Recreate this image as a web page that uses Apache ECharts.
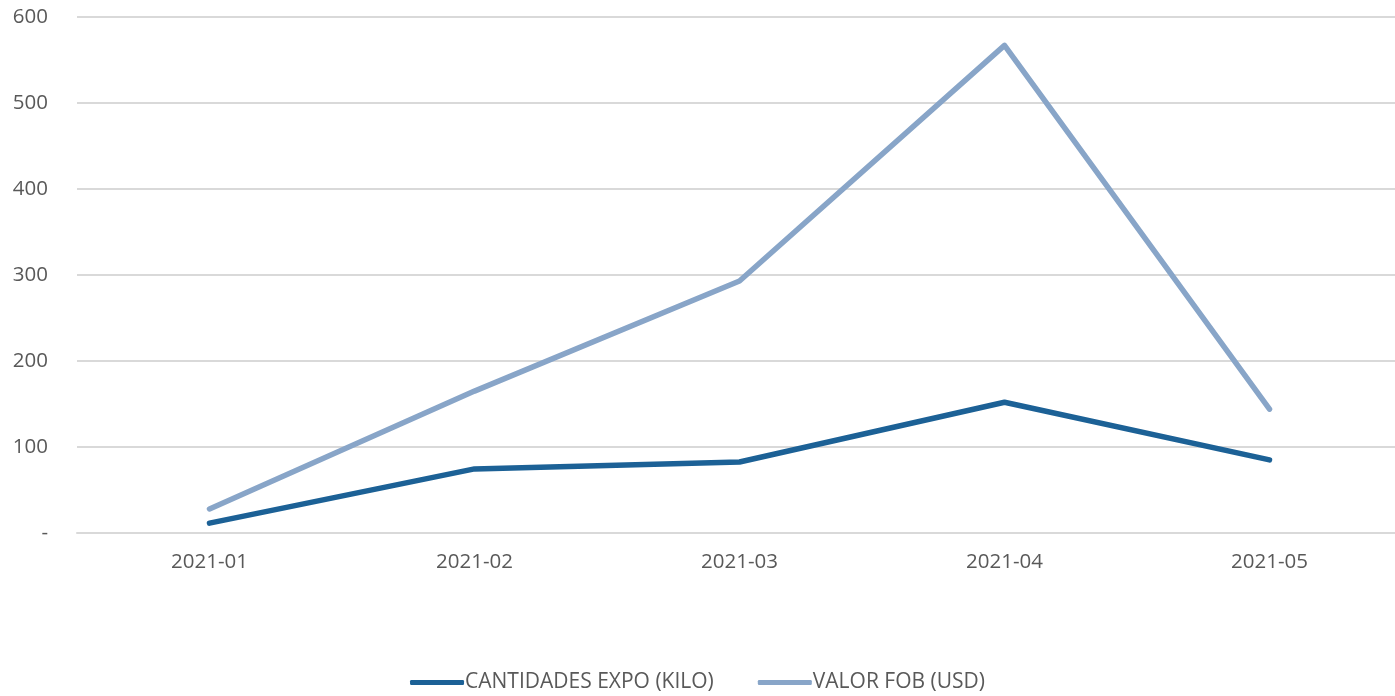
<!DOCTYPE html>
<html>
<head>
<meta charset="utf-8">
<script src="https://cdn.jsdelivr.net/npm/echarts@6/dist/echarts.min.js"></script>
<style>
  html, body { margin: 0; padding: 0; background: #fff; }
  #chart { width: 1395px; height: 696px; }
</style>
</head>
<body>
<div id="chart"></div>
<script>
const months = ["2021-01", "2021-02", "2021-03", "2021-04", "2021-05"];
const cantidades = [11.5, 74.5, 82.5, 152, 85];
const valorFob = [28, 165, 293, 567, 144];
const yTicks = [0, 100, 200, 300, 400, 500, 600];

const chart = echarts.init(document.getElementById("chart"));
const lineSeries = (name, data, color) => ({
  name: name,
  type: "line",
  data: data,
  symbol: "none",
  smooth: false,
  lineStyle: { color: color, width: 5.5, cap: "round", join: "round" },
  itemStyle: { color: color },
});

chart.setOption({
  animation: false,
  textStyle: { fontFamily: "Open Sans", color: "#595959" },
  grid: { left: 77, right: -7, top: 17, bottom: 163, outerBoundsMode: "none" },
  xAxis: {
    type: "category",
    data: months,
    boundaryGap: true,
    axisLine: { lineStyle: { color: "#d9d9d9", width: 2 } },
    axisTick: { show: false },
    axisLabel: { color: "#595959", fontSize: 20.5, margin: 19 },
  },
  yAxis: {
    type: "value",
    min: yTicks[0],
    max: yTicks[yTicks.length - 1],
    interval: 100,
    axisLine: { show: false },
    axisTick: { show: false },
    splitLine: { lineStyle: { color: "#d9d9d9", width: 2 } },
    axisLabel: {
      color: "#595959",
      fontSize: 20.5,
      margin: 29,
      formatter: (v) => (v === 0 ? "-" : String(v)),
    },
  },
  legend: {
    bottom: -2,
    left: "center",
    itemWidth: 54,
    itemHeight: 5,
    itemGap: 44,
    icon: "roundRect",
    textStyle: { color: "#595959", fontSize: 21, padding: [0, 0, 0, -4] },
    data: ["CANTIDADES EXPO (KILO)", "VALOR FOB (USD)"],
  },
  series: [
    lineSeries("CANTIDADES EXPO (KILO)", cantidades, "#1c6196"),
    lineSeries("VALOR FOB (USD)", valorFob, "#88a5c8"),
  ],
});
</script>
</body>
</html>
